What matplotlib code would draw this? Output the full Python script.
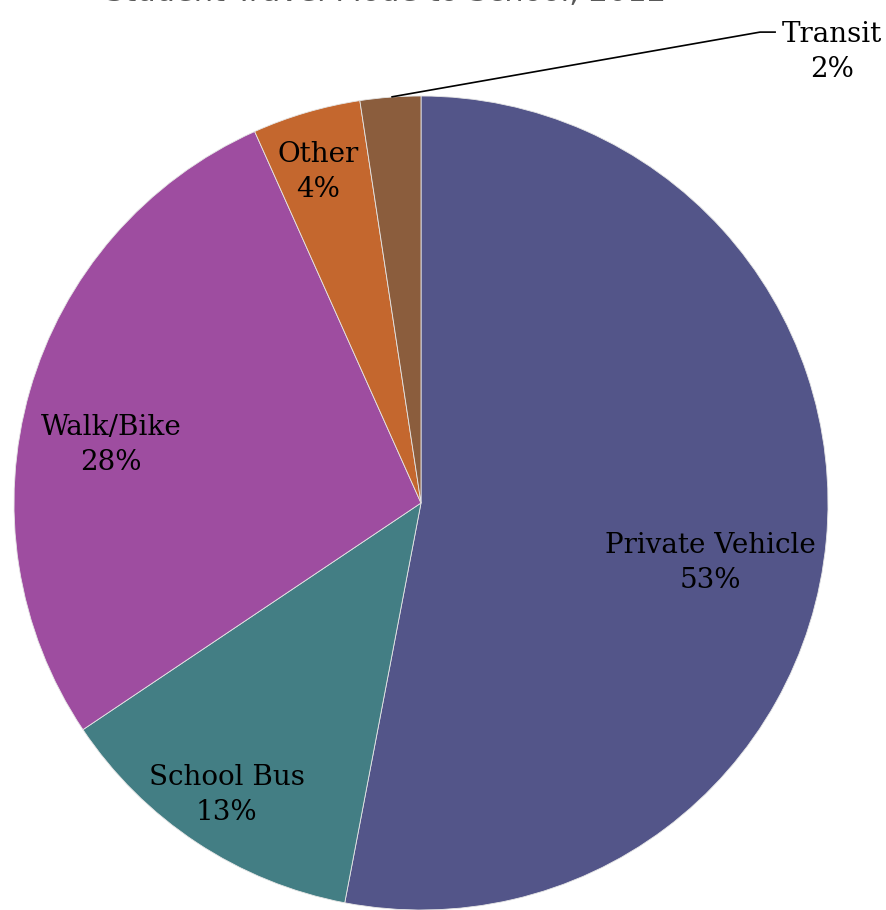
import matplotlib.pyplot as plt

# data (clockwise from 12 o'clock)
modes = ['Private Vehicle', 'School Bus', 'Walk/Bike', 'Other', 'Transit']
shares = [53.0, 12.6, 27.7, 4.3, 2.4]
colors = ['#535589', '#437e84', '#9e4da0', '#c4672e', '#8b5d3d']

# label placement, in pie-radius units
label_pos = [(0.71, -0.147), (-0.477, -0.717), (-0.762, 0.143), (-0.253, 0.813), (1.01, 1.108)]
title = 'Student Travel Mode to School, 2012'

fig = plt.figure(figsize=(8.87, 9.10), dpi=100)
ax = fig.add_axes([0, 0, 1, 1])

wedges, _ = ax.pie(shares, colors=colors, startangle=90, counterclock=False,
                   radius=1.0, center=(0, 0),
                   wedgeprops=dict(edgecolor='#e6e6e6', linewidth=0.6))

lab_font = dict(family='DejaVu Serif', fontsize=20, color='black',
                ha='center', va='center', linespacing=1.4)
for m, s, (x, y) in zip(modes, shares, label_pos):
    ax.text(x, y, '%s\n%d%%' % (m, round(s)), **lab_font)

# leader line for the small Transit slice
ax.plot([-0.071, 0.833, 0.870], [0.998, 1.157, 1.157], color='black', lw=1.2)

# title, mostly cut off by the top of the image
ax.text(-0.088, 1.234, title, ha='center', va='baseline', fontsize=22,
        color='#595959', family='DejaVu Sans')

ax.set_xlim(-421 / 407, (887 - 421) / 407)
ax.set_ylim(-(910 - 503) / 407, 503 / 407)
ax.axis('off')

fig.savefig('out.png', dpi=100)
